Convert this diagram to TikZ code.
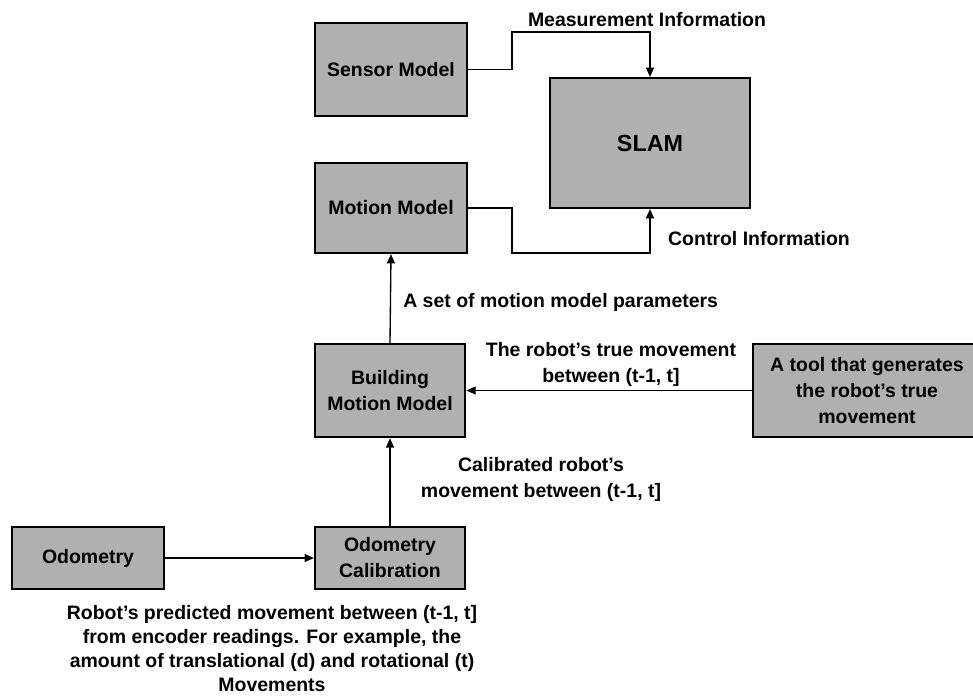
\documentclass[tikz,border=0pt]{standalone}
\usepackage{fontspec}
\setmainfont{Liberation Sans}
\usetikzlibrary{arrows.meta}
\definecolor{boxgray}{gray}{0.69}
\begin{document}
\begin{tikzpicture}[x=0.75pt,y=-0.75pt,
  every node/.style={font=\bfseries\fontsize{14.6}{19.5}\selectfont, align=center, inner sep=0pt},
  box/.style={draw=black, line width=1.6pt, fill=boxgray},
  conn/.style={line width=1pt, draw=black},
  arr/.style={conn, -{Triangle[length=7pt,width=6pt]}},
  lbl/.style={}]
\clip (0,0) rectangle (973,696);
\fill[white] (0,0) rectangle (973,696);
% boxes
\node[box, minimum width=114pt, minimum height=69.75pt] (sensor) at (391,69.5) {Sensor Model};
\node[box, minimum width=114pt, minimum height=67.5pt] (motion) at (391,208) {Motion Model};
\node[box, minimum width=150pt, minimum height=97.5pt, font=\bfseries\fontsize{17.5}{21}\selectfont] (slam) at (650,143) {SLAM};
\node[box, minimum width=113pt, minimum height=70pt] (build) at (390,390.5) {Building\\Motion Model};
\node[box, minimum width=112.5pt, minimum height=46.5pt] (calib) at (390,558) {Odometry\\Calibration};
\node[box, minimum width=114pt, minimum height=46.5pt] (odom) at (88,558) {Odometry};
\node[box, minimum width=171pt, minimum height=70pt] (tool) at (867,390.5) {A tool that generates\\the robot's true\\movement};
% bend points
\coordinate (m1) at (512,32);
\coordinate (c1) at (512,253);
% connectors
\draw[arr] (sensor.east) -| (m1) -| (slam.north);
\draw[arr] (motion.east) -| (c1) -| (slam.south);
\draw[arr] (build.north) -- (motion.south);
\draw[arr] (tool.west) -- (build.east);
\draw[arr] (calib.north) -- (build.south);
\draw[arr] (odom.east) -- (calib.west);
% labels
\node[lbl] (lmeas) at (647,20) {Measurement Information};
\node[lbl] (lctrl) at (759,239) {Control Information};
\node[lbl, anchor=west] (lset) at (403,302) {A set of motion model parameters};
\node[lbl] (ltrue) at (611,364) {The robot's true movement\\between (t-1, t]};
\node[lbl] (lcal) at (541,479) {Calibrated robot's\\movement between (t-1, t]};
\node[lbl, font=\bfseries\fontsize{14.6}{18}\selectfont] (lpred) at (272,649) {Robot's predicted movement between (t-1, t]\\from encoder readings. For example, the\\amount of translational (d) and rotational (t)\\Movements};
\end{tikzpicture}
\end{document}
